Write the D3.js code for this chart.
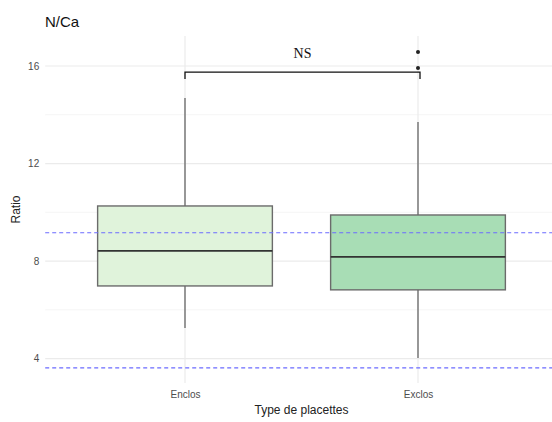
<!DOCTYPE html>
<html>
<head>
<meta charset="utf-8">
<script src="https://cdn.jsdelivr.net/npm/d3@7"></script>
<style>
  html, body { margin: 0; padding: 0; background: #fff; }
  svg { display: block; font-family: "Liberation Sans", Arial, sans-serif; }
</style>
</head>
<body>
<svg id="chart" width="552" height="422"></svg>
<script>
// Plot categories and their box statistics (N/Ca ratio)
const categories = ["Enclos", "Exclos"];
const boxFill = ["#e0f3db", "#a8ddb5"];
const whiskerLow = [5.26, 4.03];
const q1 = [6.98, 6.82];
const median = [8.42, 8.17];
const q3 = [10.26, 9.89];
const whiskerHigh = [14.69, 13.70];
const outliersExclos = [16.57, 15.92];

// Reference lines and axis ticks
const refLines = [9.16, 3.62];
const yTicks = [4, 8, 12, 16];
const yMinor = [6, 10, 14];
const bracketValue = 15.75;
const bracketLabel = "NS";

const svg = d3.select("#chart");
const panel = { left: 45.2, right: 557.8, top: 36, bottom: 383 };

const y = d3.scaleLinear().domain([3.0, 17.23]).range([panel.bottom, panel.top]);
const x = d3.scalePoint().domain(categories).range([panel.left, panel.right]).padding(0.6);
const boxW = x.step() * 0.75;

const g = svg.append("g");

// grid
g.selectAll(".minor").data(yMinor).join("line")
  .attr("x1", panel.left).attr("x2", panel.right)
  .attr("y1", d => y(d)).attr("y2", d => y(d))
  .attr("stroke", "#f2f2f2").attr("stroke-width", 0.8);
g.selectAll(".major").data(yTicks).join("line")
  .attr("x1", panel.left).attr("x2", panel.right)
  .attr("y1", d => y(d)).attr("y2", d => y(d))
  .attr("stroke", "#ebebeb").attr("stroke-width", 1.2);
g.selectAll(".vgrid").data(categories).join("line")
  .attr("x1", d => x(d)).attr("x2", d => x(d))
  .attr("y1", panel.top).attr("y2", panel.bottom)
  .attr("stroke", "#ebebeb").attr("stroke-width", 1.2);

// y axis tick labels
const yAxis = d3.axisLeft(y).tickValues(yTicks).tickSize(0).tickPadding(6);
const ya = svg.append("g").attr("transform", `translate(${panel.left},0)`).call(yAxis);
ya.select(".domain").remove();
ya.selectAll("text").attr("fill", "#4d4d4d").attr("font-size", 10)
  .attr("font-family", "Liberation Sans, Arial, sans-serif");

// x axis tick labels
const xAxis = d3.axisBottom(x).tickSize(0).tickPadding(8);
const xa = svg.append("g").attr("transform", `translate(0,${panel.bottom})`).call(xAxis);
xa.select(".domain").remove();
xa.selectAll("text").attr("fill", "#4d4d4d").attr("font-size", 10)
  .attr("font-family", "Liberation Sans, Arial, sans-serif");

// boxes
const stats = categories.map((c, i) => ({
  cat: c, fill: boxFill[i], lo: whiskerLow[i], q1: q1[i], med: median[i], q3: q3[i], hi: whiskerHigh[i]
}));
const bx = g.selectAll(".box").data(stats).join("g");
bx.append("line")
  .attr("x1", d => x(d.cat)).attr("x2", d => x(d.cat))
  .attr("y1", d => y(d.q3)).attr("y2", d => y(d.hi))
  .attr("stroke", "#666").attr("stroke-width", 1.3);
bx.append("line")
  .attr("x1", d => x(d.cat)).attr("x2", d => x(d.cat))
  .attr("y1", d => y(d.q1)).attr("y2", d => y(d.lo))
  .attr("stroke", "#666").attr("stroke-width", 1.3);
bx.append("rect")
  .attr("x", d => x(d.cat) - boxW / 2).attr("width", boxW)
  .attr("y", d => y(d.q3)).attr("height", d => y(d.q1) - y(d.q3))
  .attr("fill", d => d.fill).attr("stroke", "#6b6b6b").attr("stroke-width", 1.4);
bx.append("line")
  .attr("x1", d => x(d.cat) - boxW / 2).attr("x2", d => x(d.cat) + boxW / 2)
  .attr("y1", d => y(d.med)).attr("y2", d => y(d.med))
  .attr("stroke", "#333").attr("stroke-width", 1.8);

// outliers
g.selectAll(".out").data(outliersExclos).join("circle")
  .attr("cx", x("Exclos")).attr("cy", d => y(d)).attr("r", 2)
  .attr("fill", "#222");

// reference dashed lines
g.selectAll(".ref").data(refLines).join("line")
  .attr("x1", panel.left).attr("x2", panel.right)
  .attr("y1", d => y(d)).attr("y2", d => y(d))
  .attr("stroke", "#6b6bff").attr("stroke-width", 1.1)
  .attr("stroke-dasharray", "4,3");

// significance bracket
const by = y(bracketValue);
const x1 = x("Enclos"), x2 = x("Exclos");
g.append("path")
  .attr("d", `M${x1},${by + 7}L${x1},${by}L${x2 + 2},${by}L${x2 + 2},${by + 7}`)
  .attr("fill", "none").attr("stroke", "#111").attr("stroke-width", 1.3);
svg.append("text")
  .attr("x", (x1 + x2) / 2 + 1).attr("y", by - 14)
  .attr("text-anchor", "middle")
  .attr("font-family", "Liberation Serif, Times New Roman, serif")
  .attr("font-size", 14).attr("fill", "#111")
  .text(bracketLabel);

// titles
svg.append("text").attr("x", 45).attr("y", 27)
  .attr("font-size", 15).attr("fill", "#111").text("N/Ca");
svg.append("text")
  .attr("transform", `translate(20,${(panel.top + panel.bottom) / 2}) rotate(-90)`)
  .attr("text-anchor", "middle").attr("font-size", 12).attr("fill", "#222")
  .text("Ratio");
svg.append("text")
  .attr("x", (x1 + x2) / 2).attr("y", 414)
  .attr("text-anchor", "middle").attr("font-size", 12).attr("fill", "#222")
  .text("Type de placettes");
</script>
</body>
</html>
